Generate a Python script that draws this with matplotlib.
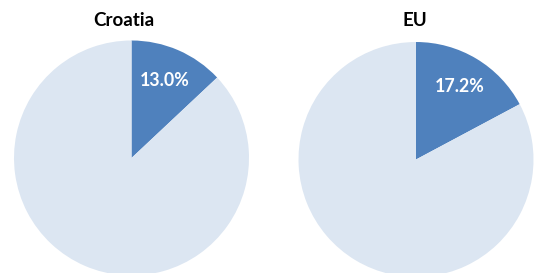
import matplotlib; matplotlib.use("Agg")
import matplotlib.pyplot as plt

regions = ["Croatia", "EU"]
shares = [13.0, 17.2]
colors = ["#4F81BD", "#DCE6F2"]

W, H = 534, 273
fig = plt.figure(figsize=(W/100, H/100), dpi=100)
# pie centre (px), radius (px), title centre x (px)
layout = [((131.5, 158.0), 117.5, 123.7), ((416.0, 159.5), 117.5, 415.3)]

for name, s, ((cx, cy), r, tx) in zip(regions, shares, layout):
    ax = fig.add_axes([(cx-r)/W, (H-cy-r)/H, 2*r/W, 2*r/H])
    ax.pie([s, 100-s], colors=colors, startangle=90, counterclock=False, radius=1,
           autopct=lambda p: f"{p:.1f}%" if p < 50 else "", pctdistance=0.72,
           textprops=dict(color="white", fontsize=12.8, fontweight="bold", family="Lato"),
           wedgeprops=dict(linewidth=0))
    ax.set_xlim(-1, 1); ax.set_ylim(-1, 1); ax.set_aspect("auto"); ax.axis("off")
    fig.text(tx/W, 1-20.7/H, name, ha="center", va="center", fontsize=13.5,
             fontweight="bold", family="Lato")

fig.savefig("out.png", dpi=100)
